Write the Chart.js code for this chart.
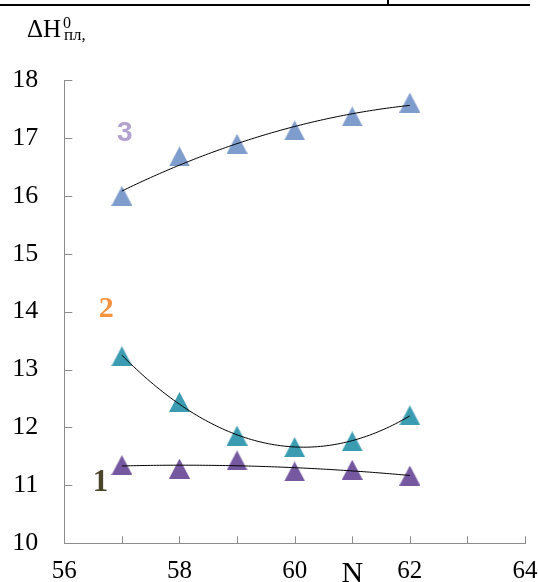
<!DOCTYPE html>
<html>
<head>
<meta charset="utf-8">
<script src="https://cdn.jsdelivr.net/npm/chart.js@4.4.1/dist/chart.umd.min.js"></script>
<style>
  html, body { margin: 0; padding: 0; background: #fff; }
</style>
</head>
<body>
<canvas id="dh" width="538" height="582"></canvas>
<script>
// data
var nValues = [57, 58, 59, 60, 61, 62];
var series1 = [11.35, 11.29, 11.43, 11.24, 11.27, 11.17];
var series2 = [13.23, 12.44, 11.86, 11.66, 11.76, 12.21];
var series3 = [16.00, 16.68, 16.90, 17.13, 17.37, 17.61];
var seriesColors = ['#7558a0', '#3a9bb1', '#7f9dcc'];
var xTickLabels = { 56: '56', 58: '58', 60: '60', 61: 'N', 62: '62', 64: '64' };
var yTicks = [10, 11, 12, 13, 14, 15, 16, 17, 18];

// curve numbers placed next to the series (data coords)
var curveNotes = [
  { text: '1', x: 56.63, y: 11.05, color: '#4a452a', font: 'bold 31px "Liberation Serif"' },
  { text: '2', x: 56.73, y: 14.05, color: '#f7923f', font: 'bold 30px "Liberation Serif"' },
  { text: '3', x: 57.05, y: 17.08, color: '#b3a1cf', font: 'bold 28px "Liberation Sans"' }
];

var serif = '"Liberation Serif", "Times New Roman", serif';

// 2nd order least squares trend, like the spreadsheet one
function quadFit(xs, ys) {
  var m = 0;
  xs.forEach(function(v){ m += v; });
  m = m / xs.length;
  var s0 = xs.length, s1 = 0, s2 = 0, s3 = 0, s4 = 0, t0 = 0, t1 = 0, t2 = 0;
  for (var i = 0; i < xs.length; i++) {
    var u = xs[i] - m;
    s1 += u; s2 += u*u; s3 += u*u*u; s4 += u*u*u*u;
    t0 += ys[i]; t1 += u*ys[i]; t2 += u*u*ys[i];
  }
  var det = function(a){ return a[0][0]*(a[1][1]*a[2][2]-a[1][2]*a[2][1]) - a[0][1]*(a[1][0]*a[2][2]-a[1][2]*a[2][0]) + a[0][2]*(a[1][0]*a[2][1]-a[1][1]*a[2][0]); };
  var A = [[s0,s1,s2],[s1,s2,s3],[s2,s3,s4]];
  var D = det(A);
  var a = det([[t0,s1,s2],[t1,s2,s3],[t2,s3,s4]]) / D;
  var b = det([[s0,t0,s2],[s1,t1,s3],[s2,t2,s4]]) / D;
  var c = det([[s0,s1,t0],[s1,s2,t1],[s2,s3,t2]]) / D;
  return function(x){ var u = x - m; return a + b*u + c*u*u; };
}

function trendPoints(ys) {
  var f = quadFit(nValues, ys);
  var pts = [];
  var x0 = nValues[0], x1 = nValues[nValues.length-1];
  for (var i = 0; i <= 100; i++) {
    var x = x0 + (x1 - x0) * i / 100;
    pts.push({ x: x, y: f(x) });
  }
  return pts;
}

function toPoints(ys) {
  return nValues.map(function(n, i){ return { x: n, y: ys[i] }; });
}

// triangle marker centred on its box
function triangle(color) {
  var c = document.createElement('canvas');
  c.width = 21; c.height = 20;
  var g = c.getContext('2d');
  g.fillStyle = color;
  g.beginPath();
  g.moveTo(10.5, 0);
  g.lineTo(21, 20);
  g.lineTo(0, 20);
  g.closePath();
  g.fill();
  return c;
}

var allSeries = [series1, series2, series3];
var datasets = [];
allSeries.forEach(function(s){
  datasets.push({
    data: trendPoints(s),
    showLine: true,
    borderColor: '#000',
    borderWidth: 1,
    pointRadius: 0,
    tension: 0
  });
});
allSeries.forEach(function(s, i){
  datasets.push({
    data: toPoints(s),
    pointStyle: triangle(seriesColors[i]),
    pointRadius: 10,
    showLine: false
  });
});

var decor = {
  id: 'decor',
  afterDraw: function(chart) {
    var ctx = chart.ctx;
    var xs = chart.scales.x, ys = chart.scales.y;
    var left = chart.chartArea.left, bottom = chart.chartArea.bottom;
    ctx.save();
    // inner tick marks
    ctx.strokeStyle = '#8c8c8c';
    ctx.lineWidth = 1;
    ctx.beginPath();
    for (var v = 57; v <= 64; v++) {
      var px = Math.round(xs.getPixelForValue(v)) + 0.5;
      ctx.moveTo(px, bottom); ctx.lineTo(px, bottom - 7);
    }
    for (var k = 1; k < yTicks.length; k++) {
      var py = Math.round(ys.getPixelForValue(yTicks[k])) + 0.5;
      ctx.moveTo(left, py); ctx.lineTo(left + 8, py);
    }
    ctx.stroke();

    // curve numbers
    ctx.textAlign = 'center';
    ctx.textBaseline = 'middle';
    curveNotes.forEach(function(n){
      ctx.fillStyle = n.color;
      ctx.font = n.font;
      ctx.fillText(n.text, xs.getPixelForValue(n.x), ys.getPixelForValue(n.y));
    });

    // axis title ΔH0пл,
    ctx.fillStyle = '#000';
    ctx.textAlign = 'left';
    ctx.textBaseline = 'alphabetic';
    ctx.font = '25px ' + serif;
    ctx.fillText('ΔH', 27, 37);
    ctx.font = '16px ' + serif;
    ctx.fillText('0', 63, 28);
    ctx.font = '17px ' + serif;
    ctx.fillText('пл,', 64, 40);

    // table border at the top
    ctx.strokeStyle = '#000';
    ctx.lineWidth = 2;
    ctx.beginPath();
    ctx.moveTo(0, 5); ctx.lineTo(530, 5);
    ctx.moveTo(388, 0); ctx.lineTo(388, 5);
    ctx.stroke();
    ctx.restore();
  }
};

var chart = new Chart(document.getElementById('dh'), {
  type: 'scatter',
  data: { datasets: datasets },
  options: {
    responsive: false,
    animation: false,
    devicePixelRatio: 1,
    layout: { padding: { top: 80, right: 13, left: 0, bottom: 0 } },
    plugins: { legend: { display: false }, tooltip: { enabled: false } },
    scales: {
      x: {
        type: 'linear',
        min: 56, max: 64,
        grid: { display: false, drawTicks: false },
        border: { display: true, color: '#8c8c8c', width: 1 },
        ticks: {
          stepSize: 1,
          autoSkip: false,
          maxRotation: 0,
          padding: 13,
          color: '#000',
          callback: function(v){ return xTickLabels[v] || ''; },
          font: function(c){
            return { family: serif, size: (c.tick && c.tick.value === 61) ? 30 : 25 };
          }
        },
        afterFit: function(s){ s.height = 38.7; s.paddingLeft = 0; s.paddingRight = 0; }
      },
      y: {
        min: 10, max: 18,
        grid: { display: false, drawTicks: false },
        border: { display: true, color: '#8c8c8c', width: 1 },
        ticks: {
          stepSize: 1,
          padding: 26,
          color: '#000',
          font: { family: serif, size: 26 }
        },
        afterFit: function(s){ s.width = 64.3; s.paddingTop = 0; s.paddingBottom = 0; }
      }
    }
  },
  plugins: [decor]
});
</script>
</body>
</html>
